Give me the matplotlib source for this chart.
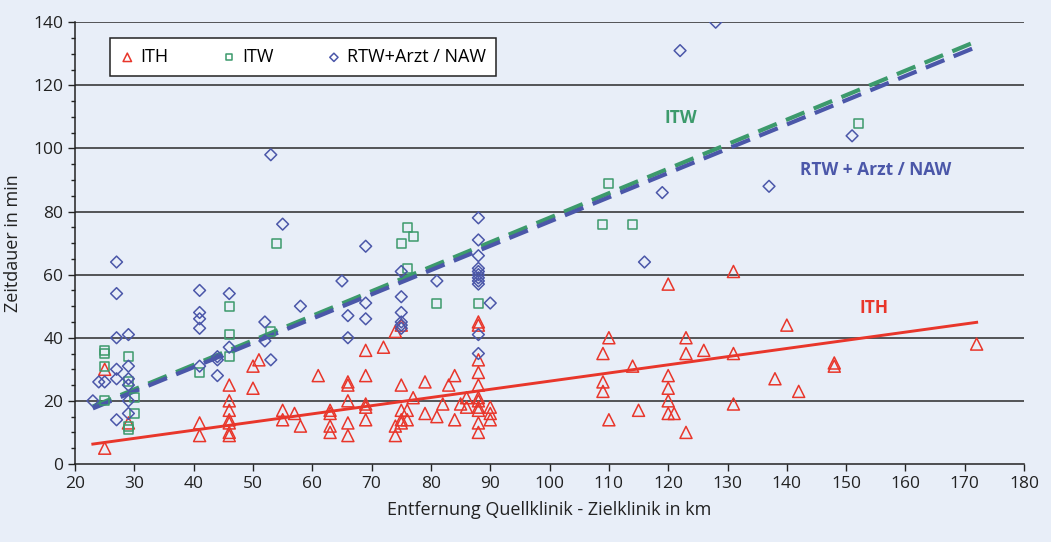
import matplotlib
matplotlib.use("Agg")
import matplotlib.pyplot as plt
import numpy as np
from matplotlib.ticker import MultipleLocator

plt.rcParams['font.family'] = ['Open Sans', 'DejaVu Sans']

# ---- data ----
ith_x = [25, 25, 29, 41, 41, 46, 46, 46, 46, 46, 46, 46, 50, 51, 50,
         55, 55, 57, 58, 61, 63, 63, 63, 63, 66, 66, 66, 66, 66,
         69, 69, 69, 69, 69, 72, 74, 75, 75, 79, 77, 75, 76, 75, 76, 75, 74, 74,
         79, 81, 82, 84, 83, 84, 86, 85, 86,
         88, 88, 88, 88, 88, 88, 88, 88, 88, 88, 88, 90, 90, 90,
         109, 110, 109, 109, 110, 114, 115, 120, 120, 120, 120, 120, 121,
         123, 123, 123, 126, 131, 131, 131, 138, 140, 142, 148, 148, 172]
ith_y = [30, 5, 13, 13, 9, 25, 20, 17, 14, 13, 10, 9, 31, 33, 24,
         17, 14, 16, 12, 28, 17, 16, 12, 10, 26, 25, 20, 13, 9,
         36, 28, 19, 18, 14, 37, 42, 44, 25, 26, 21, 17, 17, 14, 14, 13, 12, 9,
         16, 15, 19, 28, 25, 14, 21, 19, 18,
         45, 44, 33, 29, 25, 21, 20, 18, 17, 13, 10, 18, 16, 14,
         35, 40, 26, 23, 14, 31, 17, 57, 28, 24, 20, 16, 16,
         40, 35, 10, 36, 61, 35, 19, 27, 44, 23, 32, 31, 38]

itw_x = [25, 25, 25, 25, 29, 29, 29, 29, 30, 30, 41, 46, 46, 46, 53, 54,
         75, 76, 77, 76, 81, 88, 109, 110, 114, 152]
itw_y = [36, 35, 31, 20, 34, 26, 12, 11, 21, 16, 29, 50, 41, 34, 42, 70,
         70, 75, 72, 62, 51, 51, 76, 89, 76, 108]

rtw_x = [23, 24, 25, 27, 27, 27, 27, 27, 27, 29, 29, 29, 29, 29, 29,
         41, 41, 41, 41, 41, 44, 44, 44, 46, 46, 52, 52, 53, 53, 55, 58,
         65, 66, 66, 69, 69, 69, 75, 75, 75, 75, 75, 75, 81,
         88, 88, 88, 88, 88, 88, 88, 88, 88, 88, 88, 90,
         116, 119, 122, 128, 137, 151]
rtw_y = [20, 26, 26, 64, 54, 40, 30, 27, 14, 41, 31, 27, 25, 20, 16,
         55, 48, 46, 43, 31, 34, 33, 28, 54, 37, 45, 39, 33, 98, 76, 50,
         58, 47, 40, 69, 51, 46, 61, 53, 48, 45, 44, 43, 58,
         78, 71, 66, 62, 61, 60, 59, 58, 57, 41, 35, 51,
         64, 86, 131, 140, 88, 104]

# trend lines (slope, intercept)
ith_fit = (0.259, 0.34)
itw_fit = (0.777, 0.33)
rtw_fit = (0.769, -0.08)
fit_range = (23, 172)

series_labels = ["ITH", "ITW", "RTW+Arzt / NAW"]
x_ticks = list(range(20, 181, 10))
y_ticks = list(range(0, 141, 20))

RED = "#E8362B"
GREEN = "#3C9A6C"
BLUE = "#4B57A9"
BG = "#E8EEF8"

fig = plt.figure(figsize=(10.51, 5.42), dpi=100, facecolor=BG)
ax = fig.add_axes([0.0714, 0.144, 0.903, 0.815], facecolor=BG)

ax.set_xlim(20, 180)
ax.set_ylim(0, 140)

for yv in y_ticks[1:]:
    ax.axhline(yv, color="#2a2a2a", lw=1.1, zorder=1)

fx = np.array(fit_range, dtype=float)
ax.plot(fx, itw_fit[0] * fx + itw_fit[1], color=GREEN, lw=3.0,
        dashes=(4.8, 2.4), zorder=3)
ax.plot(fx, rtw_fit[0] * fx + rtw_fit[1], color=BLUE, lw=3.0,
        dashes=(4.8, 2.4), zorder=3)
ax.plot(fx, ith_fit[0] * fx + ith_fit[1], color=RED, lw=2.1, zorder=3)

ax.scatter(ith_x, ith_y, marker='^', s=75, facecolors='none', edgecolors=RED,
           linewidths=1.1, zorder=4, label=series_labels[0])
ax.scatter(itw_x, itw_y, marker='s', s=42, facecolors='none', edgecolors=GREEN,
           linewidths=1.1, zorder=4, label=series_labels[1])
ax.scatter(rtw_x, rtw_y, marker='D', s=36, facecolors='none', edgecolors=BLUE,
           linewidths=1.1, zorder=4, label=series_labels[2])

ax.text(122.2, 109.8, "ITW", color=GREEN, fontsize=12.5, fontweight='bold',
        ha='center', va='center')
ax.text(155, 93.2, "RTW + Arzt / NAW", color=BLUE, fontsize=12.5,
        fontweight='bold', ha='center', va='center')
ax.text(154.7, 49.5, "ITH", color=RED, fontsize=12.5, fontweight='bold',
        ha='center', va='center')

ax.set_xticks(x_ticks)
ax.set_yticks(y_ticks)
ax.yaxis.set_minor_locator(MultipleLocator(5))
ax.tick_params(axis='both', which='major', direction='out', length=5,
               width=1, colors='#222222', labelsize=12.5)
ax.tick_params(axis='y', which='minor', direction='out', length=3, width=1,
               colors='#222222')
for s in ['top', 'right']:
    ax.spines[s].set_visible(False)
for s in ['left', 'bottom']:
    ax.spines[s].set_color('#222222')
    ax.spines[s].set_linewidth(1.1)

ax.set_xlabel("Entfernung Quellklinik - Zielklinik in km", fontsize=13,
              color='#222222', labelpad=7)
ax.set_ylabel("Zeitdauer in min", fontsize=13, color='#222222', labelpad=8)

leg = ax.legend(loc='upper left', bbox_to_anchor=(0.037, 0.964), ncol=3,
                borderaxespad=0, frameon=True, fancybox=False,
                edgecolor='#222222', facecolor='white', framealpha=1,
                fontsize=13, handletextpad=0.32, columnspacing=2.95,
                borderpad=0.55, handlelength=0.8, scatterpoints=1,
                markerscale=0.7)
leg.get_frame().set_linewidth(1.1)
leg.set_zorder(6)

fig.savefig("out.png", dpi=100, facecolor=BG)
